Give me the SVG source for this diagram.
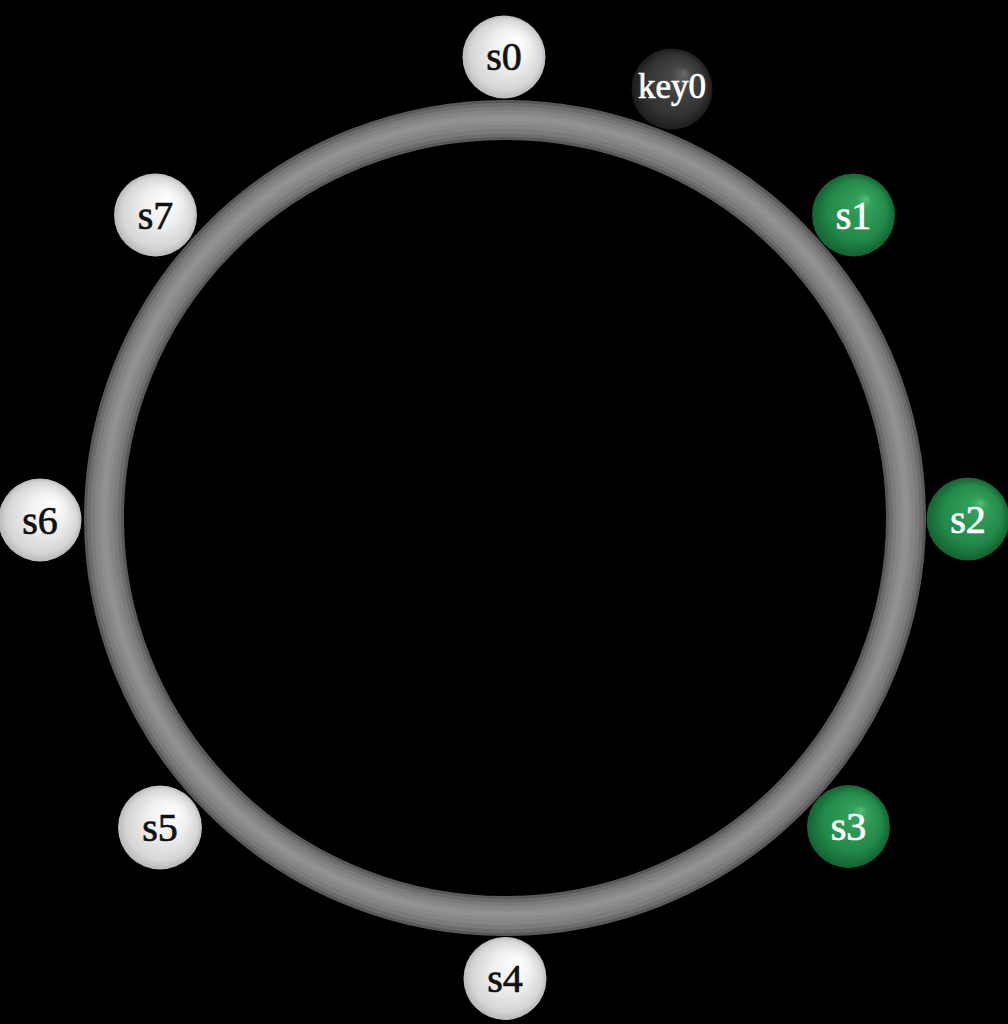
<svg xmlns="http://www.w3.org/2000/svg" width="1008" height="1024" viewBox="0 0 1008 1024">
<defs>
<radialGradient id="gWhite" cx="0.5" cy="0.5" r="0.5" fx="0.66" fy="0.3">
<stop offset="0" stop-color="#ffffff"/>
<stop offset="0.45" stop-color="#f0f0f0"/>
<stop offset="0.85" stop-color="#d6d6d6"/>
<stop offset="1" stop-color="#b8b8b8"/>
</radialGradient>
<radialGradient id="gGreen" cx="0.5" cy="0.5" r="0.5" fx="0.66" fy="0.3">
<stop offset="0" stop-color="#5bb87c"/>
<stop offset="0.18" stop-color="#33a05c"/>
<stop offset="0.7" stop-color="#238a4a"/>
<stop offset="1" stop-color="#146232"/>
</radialGradient>
<radialGradient id="gDark" cx="0.5" cy="0.5" r="0.5" fx="0.66" fy="0.3">
<stop offset="0" stop-color="#6a6a6a"/>
<stop offset="0.25" stop-color="#474747"/>
<stop offset="0.75" stop-color="#333333"/>
<stop offset="1" stop-color="#1c1c1c"/>
</radialGradient>
<style>
.w{fill:url(#gWhite)}
.g{fill:url(#gGreen)}
.d{fill:url(#gDark)}
text{font-family:"Liberation Serif","DejaVu Serif",serif;font-size:40px;text-anchor:middle;stroke-width:0.7px}
.tb{fill:#111111;stroke:#111111}
.tw{fill:#ffffff;stroke:#ffffff}
.ring{fill:none}
</style>
</defs>
<rect width="1008" height="1024" fill="#000000"/>
<g id="connectors">
<g id="ring">
<ellipse class="ring" cx="505" cy="518" rx="401" ry="398" stroke="#585858" stroke-width="40"/>
<ellipse class="ring" cx="505" cy="518" rx="401" ry="398" stroke="#6c6c6c" stroke-width="34"/>
<ellipse class="ring" cx="505" cy="518" rx="401" ry="398" stroke="#7b7b7b" stroke-width="27"/>
<ellipse class="ring" cx="505" cy="517.5" rx="401" ry="398" stroke="#858585" stroke-width="19"/>
<ellipse class="ring" cx="505" cy="517" rx="401" ry="398" stroke="#8c8c8c" stroke-width="11"/>
<ellipse class="ring" cx="505" cy="516.5" rx="401" ry="398" stroke="#929292" stroke-width="5"/>
</g>
</g>
<g id="s0"><circle class="w" cx="504" cy="57" r="41.5"/><text class="tb" x="504" y="70">s0</text></g>
<g id="key0"><circle class="d" cx="672" cy="89" r="40.5"/><text class="tw" x="672" y="98" style="font-size:35px">key0</text></g>
<g id="s1"><circle class="g" cx="853.5" cy="215" r="41.5"/><text class="tw" x="853.5" y="229">s1</text></g>
<g id="s2"><circle class="g" cx="968" cy="519" r="41.5"/><text class="tw" x="968" y="533">s2</text></g>
<g id="s3"><circle class="g" cx="848.5" cy="826.5" r="41.5"/><text class="tw" x="848.5" y="840">s3</text></g>
<g id="s4"><circle class="w" cx="505" cy="978.5" r="41.5"/><text class="tb" x="505" y="992">s4</text></g>
<g id="s5"><circle class="w" cx="160" cy="827.5" r="42"/><text class="tb" x="160" y="841">s5</text></g>
<g id="s6"><circle class="w" cx="40" cy="520" r="41.5"/><text class="tb" x="40" y="534">s6</text></g>
<g id="s7"><circle class="w" cx="155.5" cy="215" r="41.5"/><text class="tb" x="155.5" y="229">s7</text></g>
</svg>
